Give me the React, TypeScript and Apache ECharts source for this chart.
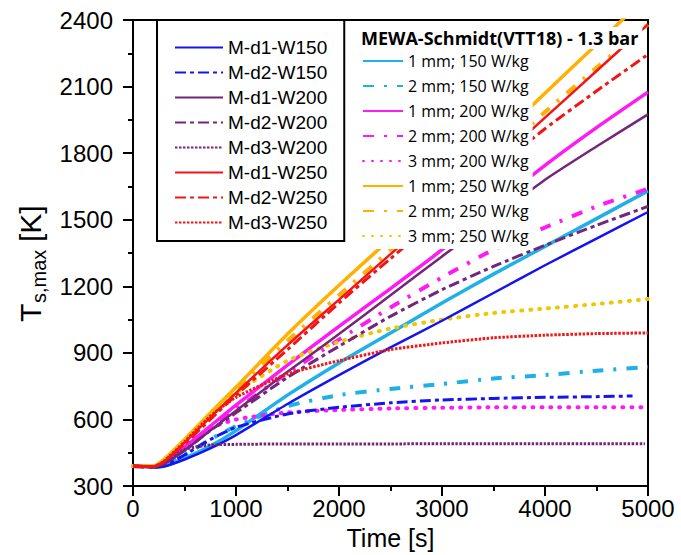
import React, { useEffect, useRef } from "react";
import * as echarts from "echarts";

// time axis (s)
const time = [0, 200, 300, 500, 750, 1000, 1500, 2000, 2500, 3000, 3500, 4000, 4500, 5000];
const timeD2W150 = [0, 200, 300, 500, 750, 1000, 1500, 2000, 2500, 3000, 3500, 4000, 4500, 4850];
const timeD3W200 = [0, 200, 300, 500, 750, 1000, 1500, 2000, 2500, 3000, 3500, 4000, 4500, 4970];

// model curves (K)
const mD1W150 = [390, 385, 388, 420, 470, 530, 670, 800, 925, 1045, 1170, 1295, 1415, 1535];
const mD2W150 = [390, 386, 392, 440, 510, 565, 625, 655, 675, 688, 695, 700, 703, 706];
const mD1W200 = [390, 388, 400, 460, 550, 640, 815, 985, 1160, 1335, 1505, 1680, 1830, 1975];
const mD2W200 = [390, 388, 400, 460, 550, 630, 790, 930, 1065, 1185, 1290, 1385, 1475, 1560];
const mD3W200 = [390, 387, 400, 465, 485, 488, 490, 490, 490, 491, 491, 491, 491, 491];
const mD1W250 = [390, 388, 410, 495, 610, 720, 935, 1140, 1345, 1545, 1750, 1960, 2170, 2380];
const mD2W250 = [390, 388, 410, 490, 600, 710, 915, 1125, 1325, 1520, 1720, 1910, 2080, 2245];
const mD3W250 = [390, 388, 412, 500, 615, 700, 805, 865, 915, 945, 968, 980, 987, 990];

// MEWA-Schmidt (VTT18) curves (K)
const e1W150 = [390, 385, 390, 425, 480, 550, 710, 855, 990, 1125, 1255, 1380, 1505, 1630];
const e2W150 = [390, 386, 392, 440, 510, 570, 660, 710, 738, 760, 785, 800, 820, 837];
const e1W200 = [390, 388, 405, 475, 570, 665, 845, 1020, 1190, 1365, 1560, 1745, 1915, 2075];
const e2W200 = [390, 388, 402, 465, 555, 645, 810, 960, 1105, 1240, 1365, 1465, 1560, 1640];
const e3W200 = [390, 388, 400, 480, 560, 600, 632, 643, 650, 653, 655, 655, 655, 655];
const e1W250 = [390, 390, 420, 510, 630, 745, 985, 1205, 1415, 1630, 1850, 2070, 2290, 2510];
const e2W250 = [390, 389, 415, 505, 620, 735, 955, 1160, 1365, 1570, 1775, 1985, 2185, 2380];
const e3W250 = [390, 390, 420, 505, 620, 720, 865, 950, 1010, 1050, 1080, 1100, 1120, 1143];

const modelNames = ["M-d1-W150", "M-d2-W150", "M-d1-W200", "M-d2-W200", "M-d3-W200", "M-d1-W250", "M-d2-W250", "M-d3-W250"];
const expNames = ["1 mm; 150 W/kg", "2 mm; 150 W/kg", "1 mm; 200 W/kg", "2 mm; 200 W/kg", "3 mm; 200 W/kg", "1 mm; 250 W/kg", "2 mm; 250 W/kg", "3 mm; 250 W/kg"];
const titleText = "MEWA-Schmidt(VTT18) - 1.3 bar";

const BLUE = "#1414f0";
const PURPLE = "#74267a";
const RED = "#f51414";
const CYAN = "#1fb0e8";
const MAGENTA = "#ff19f5";
const ORANGE = "#ffb000";
const YELLOW = "#ecc800";

const styles: Record<string, any> = {
  mSolid: { width: 2.5, type: "solid" },
  mDashDot: { width: 3, type: [11, 4, 4, 4] },
  mDot: { width: 3, type: [2.5, 1.5] },
  eSolid: { width: 3.5, type: "solid" },
  eDashDot: { width: 4, type: [11, 10, 3, 10] },
  eDot: { width: 4, type: [1, 8], cap: "round" },
};

function pairs(t: number[], v: number[]) {
  return t.map((x, i) => [x, v[i]]);
}

function mk(name: string, t: number[], v: number[], color: string, st: any) {
  return {
    name,
    type: "line",
    data: pairs(t, v),
    symbol: "none",
    smooth: 0.2,
    color,
    lineStyle: { color, ...st },
    z: 2,
  };
}

export default function App() {
  const ref = useRef<HTMLDivElement>(null);
  useEffect(() => {
    document.body.style.margin = "0";
    const chart = echarts.init(ref.current!, null, { renderer: "svg" });
    const ff = "Liberation Sans, Arial, sans-serif";
    const series = [
      mk(expNames[0], time, e1W150, CYAN, styles.eSolid),
      mk(expNames[1], time, e2W150, CYAN, styles.eDashDot),
      mk(expNames[2], time, e1W200, MAGENTA, styles.eSolid),
      mk(expNames[3], time, e2W200, MAGENTA, styles.eDashDot),
      mk(expNames[4], time, e3W200, MAGENTA, styles.eDot),
      mk(expNames[5], time, e1W250, ORANGE, styles.eSolid),
      mk(expNames[6], time, e2W250, ORANGE, styles.eDashDot),
      mk(expNames[7], time, e3W250, YELLOW, styles.eDot),
      mk(modelNames[0], time, mD1W150, BLUE, styles.mSolid),
      mk(modelNames[1], timeD2W150, mD2W150, BLUE, styles.mDashDot),
      mk(modelNames[2], time, mD1W200, PURPLE, styles.mSolid),
      mk(modelNames[3], time, mD2W200, PURPLE, styles.mDashDot),
      mk(modelNames[4], timeD3W200, mD3W200, PURPLE, styles.mDot),
      mk(modelNames[5], time, mD1W250, RED, styles.mSolid),
      mk(modelNames[6], time, mD2W250, RED, styles.mDashDot),
      mk(modelNames[7], time, mD3W250, RED, styles.mDot),
    ];
    const axisCommon = {
      type: "value",
      axisLine: { show: true, onZero: false, lineStyle: { color: "#000", width: 2 } },
      axisTick: { show: true, inside: false, length: 10, lineStyle: { color: "#000", width: 2 } },
      minorTick: { show: true, splitNumber: 2, length: 5, lineStyle: { color: "#000", width: 2 } },
      splitLine: { show: false },
    };
    chart.setOption({
      animation: false,
      backgroundColor: "#fff",
      grid: { left: 133, top: 20, right: 33, bottom: 50, show: true, borderColor: "#000", borderWidth: 2 },
      xAxis: {
        ...axisCommon,
        min: 0,
        max: 5000,
        interval: 1000,
        axisLabel: { fontSize: 24, color: "#000", fontFamily: ff, margin: 10, formatter: (v: number) => String(v) },
        name: "Time [s]",
        nameLocation: "middle",
        nameGap: 28,
        nameTextStyle: { fontSize: 25, color: "#000", fontFamily: ff },
      },
      yAxis: {
        ...axisCommon,
        min: 300,
        max: 2400,
        interval: 300,
        axisLabel: { fontSize: 24, color: "#000", fontFamily: ff, margin: 20, formatter: (v: number) => String(v) },
      },
      title: {
        text: titleText,
        left: 357,
        top: 27,
        padding: [2, 4, 2, 4],
        backgroundColor: "#fff",
        textStyle: { fontSize: 18, fontWeight: "bold", fontFamily: "Open Sans", color: "#000" },
      },
      legend: [
        {
          data: modelNames,
          orient: "vertical",
          left: 157,
          top: 20,
          itemWidth: 48,
          itemHeight: 14,
          itemGap: 6,
          padding: [18, 17, 9, 17],
          backgroundColor: "#fff",
          borderColor: "#000",
          borderWidth: 2,
          selectedMode: false,
          itemStyle: { opacity: 0 },
          textStyle: { fontSize: 19, color: "#000", fontFamily: ff },
        },
        {
          data: expNames,
          orient: "vertical",
          left: 352,
          top: 51,
          itemWidth: 40,
          itemHeight: 14,
          itemGap: 9,
          padding: [2, 4, 5, 10],
          backgroundColor: "#fff",
          borderWidth: 0,
          selectedMode: false,
          itemStyle: { opacity: 0 },
          textStyle: { fontSize: 16, color: "#000", fontFamily: "Open Sans" },
        },
      ],
      graphic: [
        {
          type: "group",
          x: 30,
          y: 262,
          rotation: Math.PI / 2,
          children: [
            { type: "text", x: -60, y: 0, style: { text: "T", fontSize: 30, fontFamily: ff, fill: "#000", verticalAlign: "middle", align: "left" } },
            { type: "text", x: -41, y: 9, style: { text: "s,max", fontSize: 20, fontFamily: ff, fill: "#000", verticalAlign: "middle", align: "left" } },
            { type: "text", x: 20, y: 0, style: { text: "[K]", fontSize: 30, fontFamily: ff, fill: "#000", verticalAlign: "middle", align: "left" } },
          ],
        },
      ],
      series,
    });
    return () => chart.dispose();
  }, []);
  return <div ref={ref} style={{ width: 681, height: 555 }} />;
}
